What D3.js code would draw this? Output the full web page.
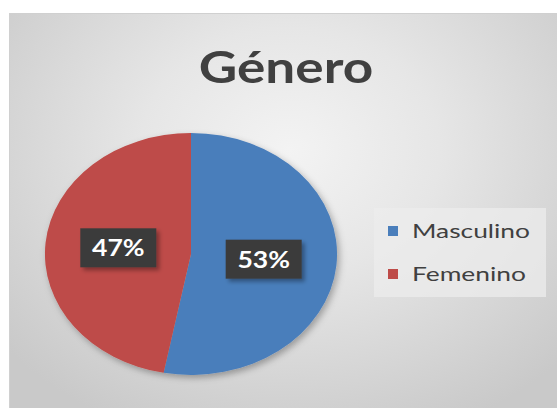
<!DOCTYPE html>
<html><head><meta charset="utf-8">
<script src="https://cdn.jsdelivr.net/npm/d3@7"></script>
<style>html,body{margin:0;padding:0;background:#fff;overflow:hidden}</style>
</head><body>
<svg id="c" width="557" height="408"></svg>
<script>
const categories = ["Masculino", "Femenino"];
const values = [53, 47];
const colors = ["#4A7EBB", "#BE4B48"];
const title = "Género";

const W = 557, H = 408, sx = 1.207;
const svg = d3.select("#c");
const defs = svg.append("defs");
const rg = defs.append("radialGradient").attr("id","bg").attr("gradientUnits","userSpaceOnUse")
  .attr("cx",290).attr("cy",150).attr("r",340)
  .attr("gradientTransform","translate(290,150) scale(1.1,0.9) translate(-290,-150)");
rg.append("stop").attr("offset","0").attr("stop-color","#f3f3f3");
rg.append("stop").attr("offset","0.4").attr("stop-color","#e6e6e6");
rg.append("stop").attr("offset","1").attr("stop-color","#c9c9c9");
const f = defs.append("filter").attr("id","sh").attr("x","-20%").attr("y","-20%").attr("width","140%").attr("height","140%");
f.append("feDropShadow").attr("dx",2).attr("dy",3).attr("stdDeviation",3).attr("flood-color","#000").attr("flood-opacity",0.3);
const f2 = defs.append("filter").attr("id","sh2").attr("x","-20%").attr("y","-20%").attr("width","140%").attr("height","140%");
f2.append("feDropShadow").attr("dx",3).attr("dy",3).attr("stdDeviation",2).attr("flood-color","#000").attr("flood-opacity",0.35);

svg.append("rect").attr("x",9.5).attr("y",13.5).attr("width",W).attr("height",H)
  .attr("fill","url(#bg)").attr("stroke","#d0d0d0");

svg.append("text").attr("transform",`translate(286,83) scale(${sx},1)`)
  .attr("text-anchor","middle").attr("font-family","Lato, 'Open Sans', sans-serif")
  .attr("font-weight","bold").attr("font-size",44).attr("fill","#404040").text(title);

const cx = 191, cy = 254, r = 121;
const pie = d3.pie().sort(null).value(d=>d)(values);
const arc = d3.arc().innerRadius(0).outerRadius(r);
const g = svg.append("g").attr("transform",`translate(${cx},${cy}) scale(${sx},1)`);
g.append("g").attr("filter","url(#sh)").selectAll("path").data(pie).join("path")
  .attr("d",arc).attr("fill",(d,i)=>colors[i]);

const total = d3.sum(values);
const lab = svg.append("g");
pie.forEach((d,i)=>{
  const c = arc.centroid(d);
  const x = cx + c[0]*sx, y = cy + c[1];
  lab.append("rect").attr("x",x-38).attr("y",y-20).attr("width",76).attr("height",39)
    .attr("fill","#3b3b3b").attr("filter","url(#sh2)");
  lab.append("text").attr("transform",`translate(${x},${y+8}) scale(${sx},1)`)
    .attr("text-anchor","middle").attr("font-family","Lato, 'Open Sans', sans-serif")
    .attr("font-weight","bold").attr("font-size",22).attr("fill","#fff")
    .text(Math.round(values[i]/total*100)+"%");
});

const lg = svg.append("g");
lg.append("rect").attr("x",374).attr("y",208).attr("width",172).attr("height",89)
  .attr("fill","#ececec").attr("fill-opacity",0.75);
const lw = [118, 114];
categories.forEach((c,i)=>{
  const y = 231 + i*43;
  lg.append("rect").attr("x",388).attr("y",y-5).attr("width",10).attr("height",10).attr("fill",colors[i]);
  lg.append("text").attr("transform",`translate(412,${y+7}) scale(${sx},1)`)
    .attr("font-family","Lato, 'Open Sans', sans-serif").attr("font-size",19)
    .attr("textLength",lw[i]/sx).attr("lengthAdjust","spacingAndGlyphs")
    .attr("fill","#404040").text(c);
});
</script>
</body></html>
